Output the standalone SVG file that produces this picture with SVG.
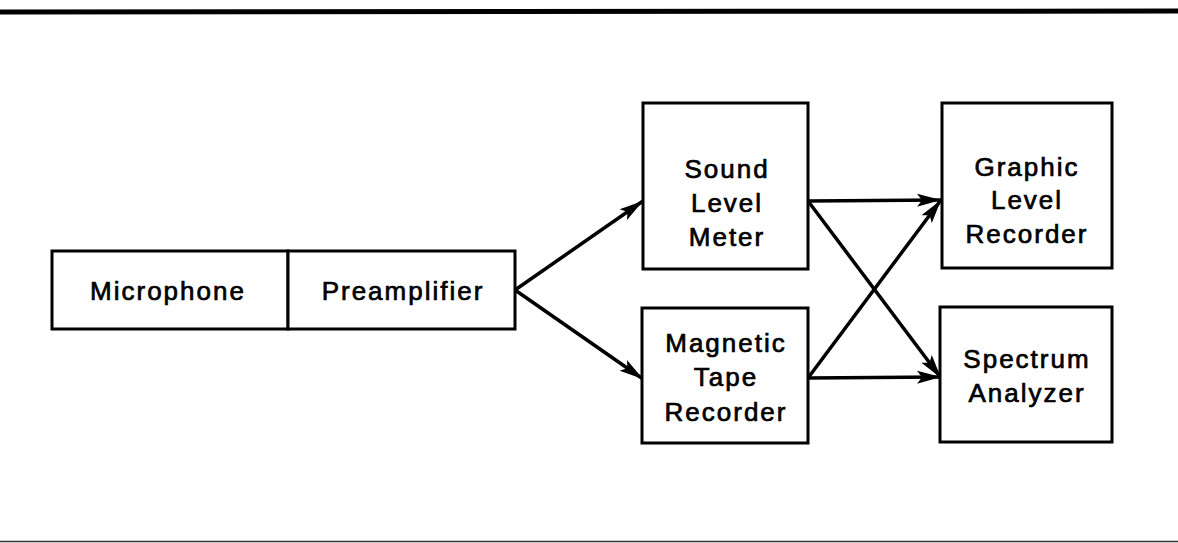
<svg xmlns="http://www.w3.org/2000/svg" width="1178" height="543" viewBox="0 0 1178 543">
<style>
.box{fill:#fff;stroke:#000;stroke-width:3}
.t{font-family:"Liberation Sans",Arial,sans-serif;font-size:26px;letter-spacing:2px;text-anchor:middle;fill:#000;stroke:#000;stroke-width:0.7}
.c{stroke:#000;stroke-width:3.5;fill:none;marker-end:url(#ah)}
</style>
<defs>
<marker id="ah" markerUnits="userSpaceOnUse" markerWidth="26" markerHeight="16" refX="24" refY="8" orient="auto">
<path d="M0,1.5 L24,8 L0,14.5 L5,8 Z" fill="#000"/>
</marker>
</defs>
<line x1="0" y1="12" x2="1178" y2="11" stroke="#000" stroke-width="5"/>
<line x1="0" y1="541.5" x2="1178" y2="541.5" stroke="#333" stroke-width="1.5"/>
<g id="connectors">
<line class="c" x1="515" y1="290" x2="643" y2="201"/>
<line class="c" x1="515" y1="290" x2="643" y2="379"/>
<line class="c" x1="808" y1="201" x2="941" y2="200"/>
<line class="c" x1="808" y1="201" x2="941" y2="378"/>
<line class="c" x1="808" y1="378" x2="941" y2="377"/>
<line class="c" x1="808" y1="378" x2="941" y2="200"/>
</g>
<g id="microphone">
<rect class="box" x="52" y="251" width="236" height="78"/>
<text class="t" x="168" y="300">Microphone</text>
</g>
<g id="preamplifier">
<rect class="box" x="288" y="251" width="227" height="78"/>
<text class="t" x="403" y="300">Preamplifier</text>
</g>
<g id="sound-level-meter">
<rect class="box" x="643" y="103" width="165" height="166"/>
<text class="t" x="727" y="178">Sound</text>
<text class="t" x="727" y="212">Level</text>
<text class="t" x="727" y="246">Meter</text>
</g>
<g id="magnetic-tape-recorder">
<rect class="box" x="642" y="308" width="166" height="135"/>
<text class="t" x="726" y="352">Magnetic</text>
<text class="t" x="726" y="386">Tape</text>
<text class="t" x="726" y="421">Recorder</text>
</g>
<g id="graphic-level-recorder">
<rect class="box" x="942" y="103" width="170" height="165"/>
<text class="t" x="1027" y="176">Graphic</text>
<text class="t" x="1027" y="209">Level</text>
<text class="t" x="1027" y="243">Recorder</text>
</g>
<g id="spectrum-analyzer">
<rect class="box" x="940" y="307" width="172" height="135"/>
<text class="t" x="1027" y="368">Spectrum</text>
<text class="t" x="1027" y="402">Analyzer</text>
</g>
</svg>
